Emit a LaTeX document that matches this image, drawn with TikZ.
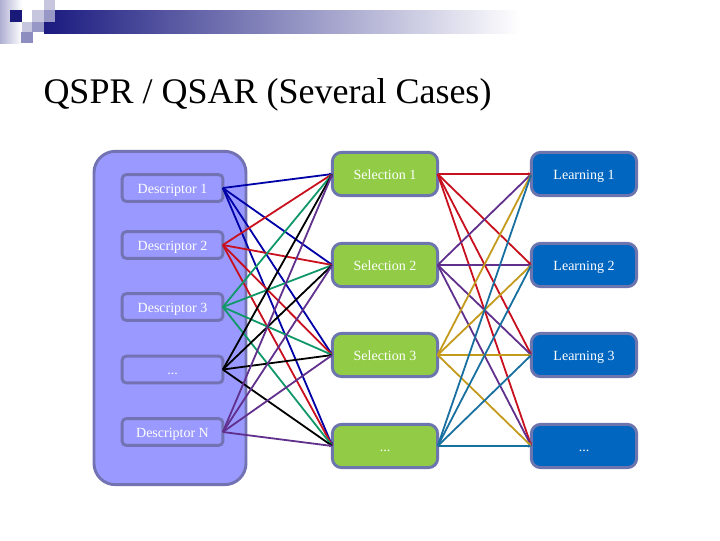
\documentclass[tikz,border=0pt]{standalone}
\usepackage{fontspec}
\setmainfont{Liberation Serif}
\usetikzlibrary{arrows.meta}
\definecolor{paneldraw}{HTML}{7373B4}
\definecolor{panelfill}{HTML}{9999FF}
\definecolor{selfill}{HTML}{92CC47}
\definecolor{learnfill}{HTML}{0066C0}
\definecolor{boxdraw}{HTML}{6C75AE}
\definecolor{navy}{HTML}{1A1A80}
\definecolor{cblue}{HTML}{0000A8}
\definecolor{cred}{HTML}{C8101E}
\definecolor{cgreen}{HTML}{109868}
\definecolor{cpurple}{HTML}{60308C}
\definecolor{cgold}{HTML}{C49A1C}
\definecolor{cteal}{HTML}{1870A0}
\tikzset{
  label/.style={text=white,font=\fontsize{10.5}{12}\selectfont,
    text height=2ex,text depth=.25ex,align=center,outer sep=0pt,inner sep=0pt},
  descbox/.style={label,draw=paneldraw,fill=panelfill,line width=2.2pt,
    rounded corners=3pt,minimum width=75.5pt,minimum height=20pt},
  selbox/.style={label,draw=boxdraw,fill=selfill,line width=2.2pt,
    rounded corners=7pt,minimum width=79pt,minimum height=32.5pt},
  learnbox/.style={selbox,fill=learnfill},
  conn/.style={line width=1.35pt,-{Stealth[length=2.5pt,width=2.5pt]}},
}
\begin{document}
\begin{tikzpicture}[x=0.75pt,y=-0.75pt]
\useasboundingbox (0,0) rectangle (720,540);
% header band
\shade[left color=navy,right color=white,shading angle=90,draw=none]
  (44,10) rectangle (520,33);
\fill[white] (0,0) rectangle (44,44);
\shade[left color=navy!35,right color=white,draw=none] (0,0) rectangle (22,43);
\fill[white] (22,10) rectangle (32,22);
\fill[navy!95!black] (10,10) rectangle (22,22);
\fill[navy!25] (32,10) rectangle (44,22);
\fill[navy!25] (44,0) rectangle (55,10);
\fill[navy!45] (44,10) rectangle (55,22);
\fill[navy!25] (22,22) rectangle (32,32);
\fill[navy!45] (32,22) rectangle (44,32);
\fill[navy!50] (21,32) rectangle (33,43);
\node (title) at (267.5,95) {\fontsize{27}{30}\selectfont QSPR / QSAR (Several Cases)};
% left column
\node[draw=paneldraw,fill=panelfill,line width=2.2pt,rounded corners=16pt,
  minimum width=114pt,minimum height=250pt,outer sep=0pt] (panel) at (170,318) {};
\node[descbox] (d1) at (172.5,188) {Descriptor 1};
\node[descbox] (d2) at (172.5,245) {Descriptor 2};
\node[descbox] (d3) at (172.5,307) {Descriptor 3};
\node[descbox] (d4) at (172.5,369.5) {...};
\node[descbox] (d5) at (172.5,432) {Descriptor N};
% middle column
\node[selbox] (s1) at (385,174) {Selection 1};
\node[selbox] (s2) at (385,265) {Selection 2};
\node[selbox] (s3) at (385,355) {Selection 3};
\node[selbox] (s4) at (385,446) {...};
% right column
\node[learnbox] (l1) at (584,174) {Learning 1};
\node[learnbox] (l2) at (584,265) {Learning 2};
\node[learnbox] (l3) at (584,355) {Learning 3};
\node[learnbox] (l4) at (584,446) {...};
% descriptors to selection
\path[conn,cblue] (d1.east) edge (s1.west) edge (s2.west) edge (s3.west) edge (s4.west);
\path[conn,cred] (d2.east) edge (s1.west) edge (s2.west) edge (s3.west) edge (s4.west);
\path[conn,cgreen] (d3.east) edge (s1.west) edge (s2.west) edge (s3.west) edge (s4.west);
\path[conn,black] (d4.east) edge (s1.west) edge (s2.west) edge (s3.west) edge (s4.west);
\path[conn,cpurple] (d5.east) edge (s1.west) edge (s2.west) edge (s3.west) edge (s4.west);
% selection to learning
\path[conn,cred] (s1.east) edge (l1.west) edge (l2.west) edge (l3.west) edge (l4.west);
\path[conn,cpurple] (s2.east) edge (l1.west) edge (l2.west) edge (l3.west) edge (l4.west);
\path[conn,cgold] (s3.east) edge (l1.west) edge (l2.west) edge (l3.west) edge (l4.west);
\path[conn,cteal] (s4.east) edge (l1.west) edge (l2.west) edge (l3.west) edge (l4.west);
\end{tikzpicture}
\end{document}
